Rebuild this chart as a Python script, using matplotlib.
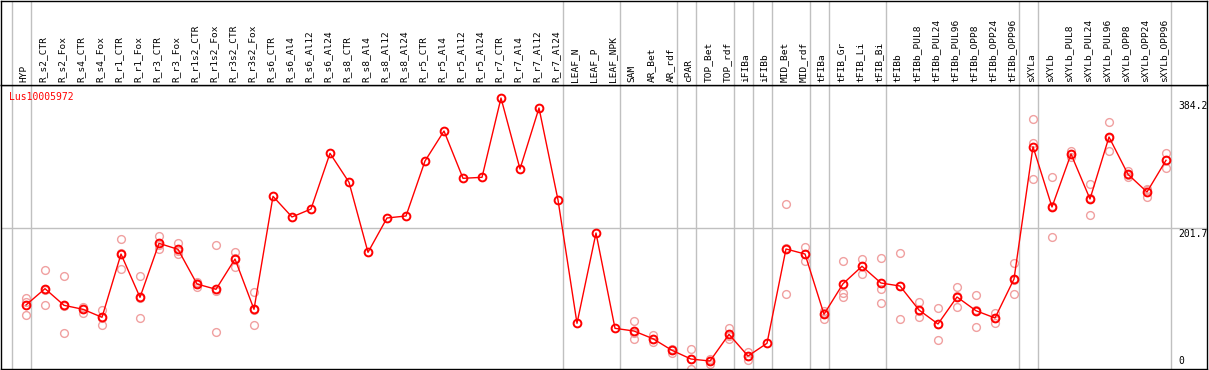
import matplotlib
matplotlib.use("Agg")
import matplotlib.pyplot as plt
import numpy as np

# column names (one per sample)
samples = ["HYP", "R_s2_CTR", "R_s2_Fox", "R_s4_CTR", "R_s4_Fox", "R_r1_CTR", "R_r1_Fox",
           "R_r3_CTR", "R_r3_Fox", "R_r1s2_CTR", "R_r1s2_Fox", "R_r3s2_CTR", "R_r3s2_Fox",
           "R_s6_CTR", "R_s6_Al4", "R_s6_Al12", "R_s6_Al24", "R_s8_CTR", "R_s8_Al4",
           "R_s8_Al12", "R_s8_Al24", "R_r5_CTR", "R_r5_Al4", "R_r5_Al12", "R_r5_Al24",
           "R_r7_CTR", "R_r7_Al4", "R_r7_Al12", "R_r7_Al24", "LEAF_N", "LEAF_P", "LEAF_NPK",
           "SAM", "AR_Bet", "AR_rdf", "cPAR", "TOP_Bet", "TOP_rdf", "iFIBa", "iFIBb",
           "MID_Bet", "MID_rdf", "tFIBa", "tFIB_Gr", "tFIB_Li", "tFIB_Bi", "tFIBb",
           "tFIBb_PUL8", "tFIBb_PUL24", "tFIBb_PUL96", "tFIBb_OPP8", "tFIBb_OPP24",
           "tFIBb_OPP96", "sXYLa", "sXYLb", "sXYLb_PUL8", "sXYLb_PUL24", "sXYLb_PUL96",
           "sXYLb_OPP8", "sXYLb_OPP24", "sXYLb_OPP96"]

# mean expression per sample
means = [93.6, 116.6, 93.2, 87.6, 76.4, 165.2, 104.4, 180.2, 171.8, 123.1, 115.7, 158.2, 87.6,
         246.2, 217.2, 228.4, 306.6, 265.9, 167.6, 215.8, 218.6, 295.8, 337.9, 271.5, 272.9,
         384.2, 284.6, 370.2, 241.1, 67.9, 194.7, 60.9,
         57.1, 46.3, 30.0, 17.8, 15.0, 52.5, 22.0, 39.9, 172.3, 165.2, 80.6, 123.5, 148.0,
         124.5, 120.3, 86.6, 67.0, 104.9, 85.6, 75.4, 130.1, 315.9, 231.2, 305.6, 242.5,
         329.5, 277.1, 252.3, 296.8]

# replicate values (empty where only one value exists)
reps = [[103, 98, 79], [142.3, 114.3, 93.2], [133.9, 91.8, 53.9], [91.3, 88, 82.9],
        [86.6, 76, 66.0], [185.9, 166, 143.8], [133.9, 104, 75.0], [190.5, 178.3, 171.8],
        [180.2, 170, 164.8], [126.4, 124, 118.5], [177.5, 114, 55.3], [167.6, 160, 147.4],
        [111.5, 86, 65.1],
        [], [], [], [], [], [], [], [], [], [], [], [], [], [], [], [], [], [], [],
        [71.6, 54, 45.5], [51.5, 46, 41.7], [32.3, 31, 26.7], [32.3, 18, 3.4],
        [18.3, 15, 11.2], [61.8, 50, 45.5], [27.2, 22, 16.4], [],
        [235.0, 173, 108.7], [175.1, 165, 155.4], [85.2, 82, 74.4], [155.0, 110.1, 104.4],
        [157.8, 148, 137.6], [159.6, 115.7, 96.0], [166.6, 120.3, 74.0],
        [97.9, 85, 76.8], [89.4, 67, 44.1], [118.5, 106, 90.4], [107.7, 86, 62.8],
        [82.9, 75, 67.9], [152.6, 129, 108.7], [354.3, 321.5, 270.1], [272.9, 232, 188.7],
        [310.3, 305, 301.8], [263.1, 244, 220.0], [350.6, 328, 309.4], [281.3, 276, 273.8],
        [256.9, 255, 245.3], [307.0, 297, 286.4]]

# group separators come after these columns
separators = [-1, 0, 28, 31, 34, 35, 37, 38, 39, 41, 42, 45, 52, 53, 60]

gene = "Lus10005972"
yticks = [384.2, 201.7, 0]

W, H = 1209, 370
fig = plt.figure(figsize=(W / 100, H / 100), dpi=100)
ax = fig.add_axes([1 / W, 1 / H, 1206 / W, 284 / H])
hax = fig.add_axes([1 / W, 285 / H, 1206 / W, 84 / H], sharex=ax)

x = np.arange(len(samples))
mono = "DejaVu Sans Mono"

for s in separators:
    ax.axvline(s + 0.24, color="#c0c0c0", lw=1, zorder=1)
    hax.axvline(s + 0.24, color="#c0c0c0", lw=1, zorder=1)
ax.axhline(yticks[1], color="#c0c0c0", lw=1, zorder=1)

# replicate points
for i, r in enumerate(reps):
    if r:
        ax.plot([x[i]] * len(r), r, "o", ms=5.6, mfc="none", mec="#f0a0a0", mew=1, zorder=2)

ax.plot(x, means, "-", color="red", lw=1, zorder=3)
ax.plot(x, means, "o", ms=5.6, mfc="none", mec="red", mew=1.4, zorder=4)

ax.set_xlim(-25 / 19, 1181 / 19)
ax.set_ylim(3.8, 402.5)
for a in (ax, hax):
    a.set_xticks([])
    a.set_yticks([])
    for sp in a.spines.values():
        sp.set_linewidth(1.0)
        sp.set_color("black")
hax.set_ylim(0, 1)

for i, name in enumerate(samples):
    hax.text(x[i] - 0.1, 0.03, name, rotation=90, ha="center", va="bottom",
             fontsize=6.8, family=mono)

ax.annotate(gene, xy=(0, 1), xycoords="axes fraction", xytext=(8, -12),
            textcoords="offset pixels", ha="left", va="center", color="red",
            fontsize=7, family=mono)

tx = 1178 / 19 - 26 / 19
ax.annotate(f"{yticks[0]}", xy=(tx, yticks[0]), xytext=(0, -3), textcoords="offset pixels",
            ha="left", va="top", fontsize=7, family=mono)
ax.annotate(f"{yticks[1]}", xy=(tx, yticks[1]), xytext=(0, -1), textcoords="offset pixels",
            ha="left", va="top", fontsize=7, family=mono)
ax.annotate("0", xy=(tx, 3.8), xytext=(0, 3), textcoords="offset pixels",
            ha="left", va="bottom", fontsize=7, family=mono)

fig.savefig("out.png", dpi=100)
